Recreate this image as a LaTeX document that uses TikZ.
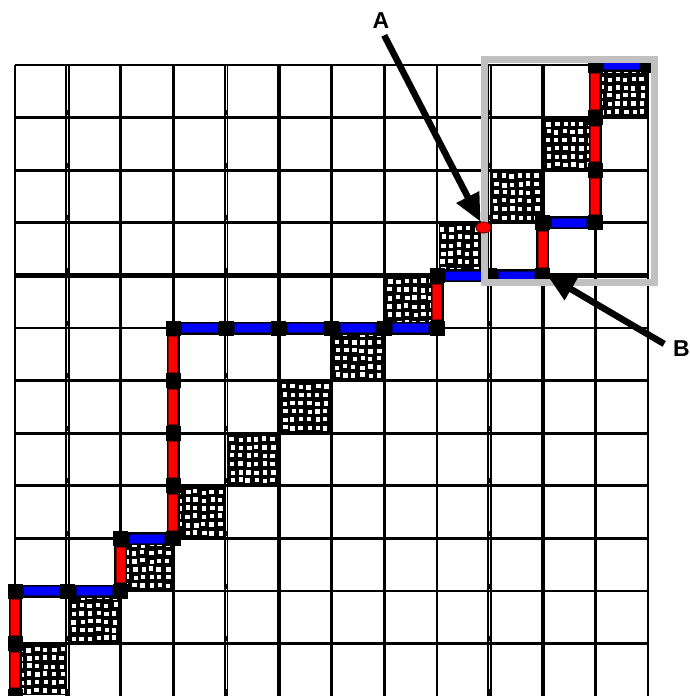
\documentclass[tikz,border=0pt]{standalone}
\usepackage{fontspec}
\setmainfont{Liberation Sans}
\usetikzlibrary{arrows.meta,shapes.geometric}
\definecolor{boxgray}{RGB}{192,192,192}
\definecolor{segred}{RGB}{255,0,0}
\definecolor{segblue}{RGB}{0,0,255}
\begin{document}
\begin{tikzpicture}[x=1pt,y=-1pt,
  gridline/.style={line width=2.8pt,black,line cap=square},
  thickline/.style={line width=4pt,black,line cap=square},
  pathline/.style={line width=13pt,black,line cap=square,line join=miter},
  redbar/.style={fill=segred,draw=red!55!black,line width=0.6pt},
  bluebar/.style={fill=segblue,draw=blue!45!black,line width=0.6pt},
  pointer/.style={line width=6.5pt,-{Triangle[length=28pt,width=24pt]}},
  letter/.style={font=\bfseries\fontsize{23}{23}\selectfont,inner sep=0pt}
]
\useasboundingbox (0,0) rectangle (689,696);
\begin{scope}
\clip (0,0) rectangle (689,696);

% grid vertices
\foreach \c in {0,...,12}
  \foreach \r in {0,...,12}
    \coordinate (g-\c-\r) at ({15+52.75*\c},{65+52.6*\r});

% grid lines
\foreach \c in {0,2,3,6,7,8,11,12}
  \draw[gridline] (g-\c-0) -- (g-\c-12);
\foreach \c in {5,10}
  \draw[thickline] (g-\c-0) -- (g-\c-12);
\foreach \c in {1,4,9} {
  \draw[line width=4.6pt,black,line cap=square] (g-\c-0) -- (g-\c-12);
  \foreach \r in {0,...,11}
    \draw[white,line width=1pt] ([yshift=2.5pt]g-\c-\r) -- ++(0,47.6);
}
\foreach \r in {0,...,3,5,6,...,11}
  \draw[gridline] (g-0-\r) -- (g-12-\r);
\draw[line width=4.6pt,black,line cap=square] (g-0-4) -- (g-12-4);

% textured cells along the diagonal
\pgfmathsetseed{42}
\foreach \k in {0,...,11} {
  \pgfmathsetmacro\tx{15+52.75*\k}
  \pgfmathsetmacro\ty{65+52.6*(11-\k)}
  \fill[black] (\tx+1.5,\ty+1.5) rectangle ++(49.75,49.6);
  \foreach \i in {0,...,5}
    \foreach \j in {0,...,5} {
      \pgfmathsetmacro\sx{\tx+3+8.2*\i+1.8*rnd}
      \pgfmathsetmacro\sy{\ty+3+8.2*\j+1.8*rnd}
      \fill[white] (\sx,\sy) rectangle ++(4.4,4.4);
    }
}

% staircase path
\draw[pathline] (g-0-12) -- (g-0-10) -- (g-2-10) -- (g-2-9) -- (g-3-9)
  -- (g-3-5) -- (g-8-5) -- (g-8-4) -- (g-10-4) -- (g-10-3) -- (g-11-3)
  -- (g-11-0) -- (g-12-0);
\foreach \c/\r in {0/12,0/11,0/10,1/10,2/10,2/9,3/9,3/8,3/7,3/6,3/5,4/5,5/5,
                   6/5,7/5,8/5,8/4,9/4,10/4,10/3,11/3,11/2,11/1,11/0,12/0}
  \fill[black] ([shift={(-7.5,-7.5)}]g-\c-\r) rectangle ++(15,15);
% vertical steps
\foreach \c/\r in {0/10,0/11,2/9,3/5,3/6,3/7,3/8,8/4,10/3,11/0,11/1,11/2}
  \draw[redbar] ([shift={(-4.5,8.5)}]g-\c-\r) rectangle ++(9,35.6);
% horizontal steps
\foreach \c/\r in {0/10,1/10,2/9,3/5,4/5,5/5,6/5,7/5,8/4,9/4,10/3,11/0}
  \draw[bluebar] ([shift={(8.5,-4.5)}]g-\c-\r) rectangle ++(35.75,9);

% highlighted block
\draw[boxgray,line width=7pt] (484.5,59.5) rectangle (654.5,282.5);

% marked point and labels
\node[ellipse,draw=red!45!black,fill=red,line width=1pt,inner sep=0pt,
      minimum width=15pt,minimum height=11pt] (pa) at (483.5,227.5) {};
\coordinate (vb) at (547,275);
\node[letter] (A) at (381,21) {A};
\node[letter] (B) at (681.3,349) {B};
\draw[pointer,shorten <=7pt] (A.south) -- (pa);
\draw[pointer,shorten <=10pt] (B.west) -- (vb);
\end{scope}
\end{tikzpicture}
\end{document}
